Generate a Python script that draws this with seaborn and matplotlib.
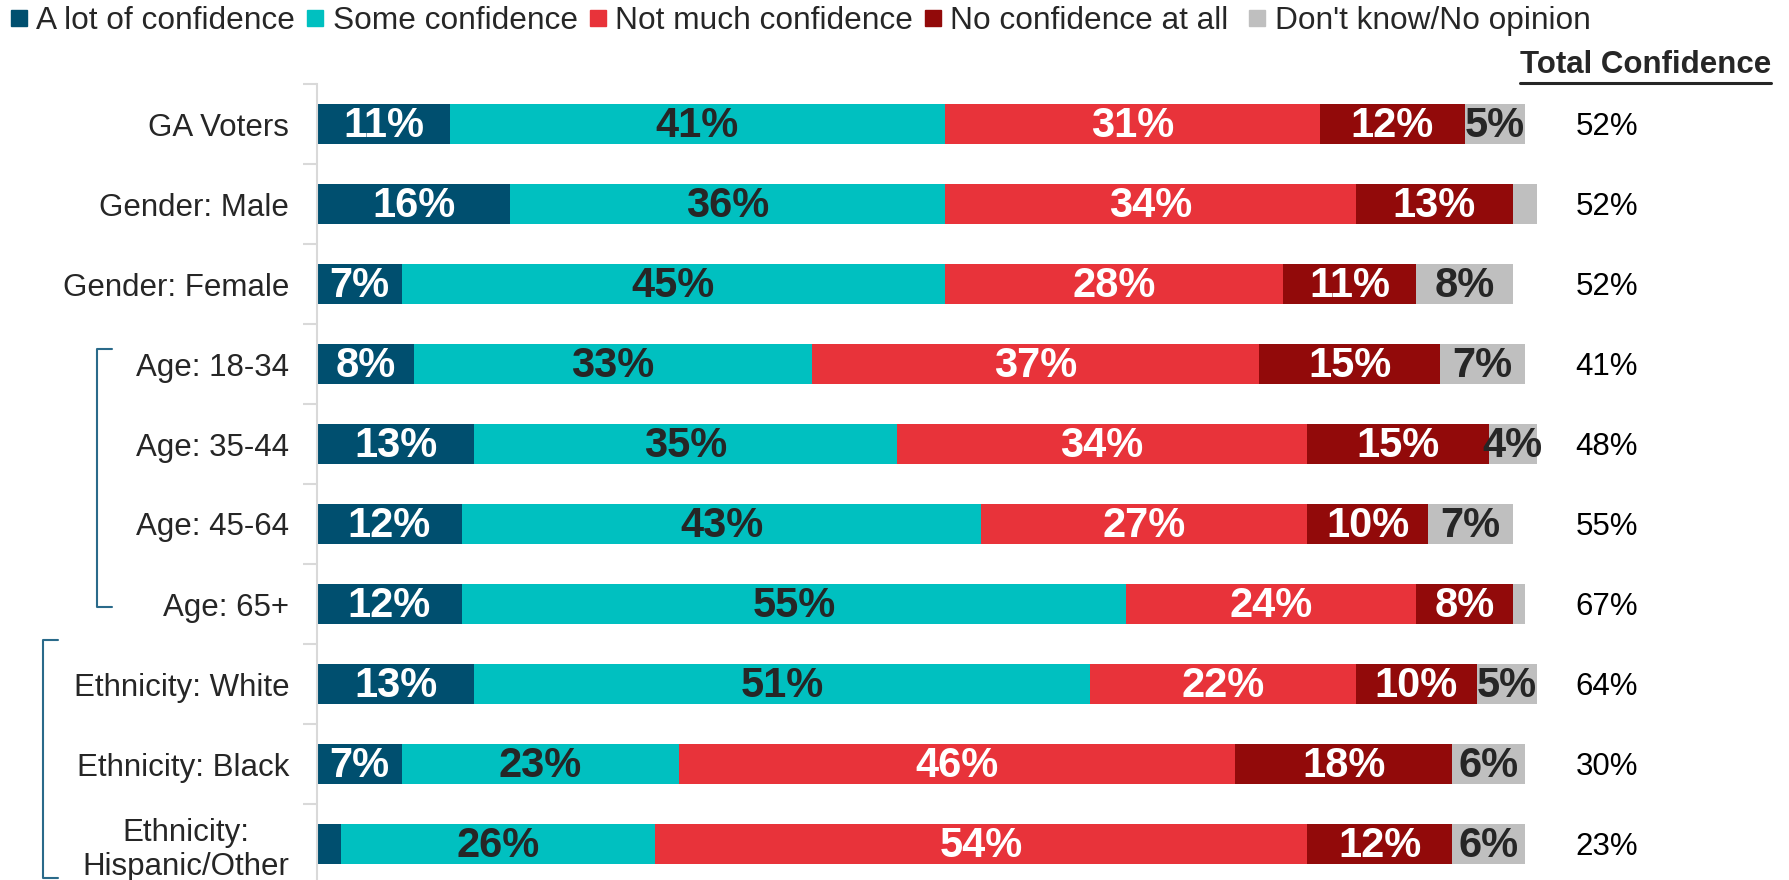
import numpy as np
import matplotlib
matplotlib.use("Agg")
import matplotlib.pyplot as plt
import seaborn as sns
from matplotlib.lines import Line2D
from matplotlib.transforms import blended_transform_factory

# data
groups = ["GA Voters", "Gender: Male", "Gender: Female", "Age: 18-34", "Age: 35-44",
          "Age: 45-64", "Age: 65+", "Ethnicity: White", "Ethnicity: Black",
          "Ethnicity:\nHispanic/Other"]
a_lot = [11, 16, 7, 8, 13, 12, 12, 13, 7, 2]
some = [41, 36, 45, 33, 35, 43, 55, 51, 23, 26]
not_much = [31, 34, 28, 37, 34, 27, 24, 22, 46, 54]
none_at_all = [12, 13, 11, 15, 15, 10, 8, 10, 18, 12]
dont_know = [5, 2, 8, 7, 4, 7, 1, 5, 6, 6]
total_conf = [52, 52, 52, 41, 48, 55, 67, 64, 30, 23]

series_names = ["A lot of confidence", "Some confidence", "Not much confidence",
                "No confidence at all ", "Don't know/No opinion"]
colors = ["#004F6F", "#00C0C0", "#E8333A", "#920A0A", "#BFBFBF"]
label_colors = ["white", "#262626", "white", "white", "#262626"]

sns.set_theme(style="white")
plt.rcParams["font.family"] = ["Liberation Sans", "DejaVu Sans"]

fig = plt.figure(figsize=(17.9, 8.8), dpi=100)
ax = fig.add_axes([317 / 1790, -4 / 880, 1220 / 1790, 800 / 880])

values = np.array([a_lot, some, not_much, none_at_all, dont_know])
cum = np.cumsum(values, axis=0)

# stacked bars: draw cumulative totals from the longest down
for k in reversed(range(5)):
    sns.barplot(x=cum[k], y=groups, color=colors[k], orient="h", width=0.5,
                saturation=1, ax=ax, linewidth=0)

for k in range(5):
    for i, v in enumerate(values[k]):
        if v >= 3:
            ax.text(cum[k][i] - v / 2, i + 0.02, f"{v}%", ha="center", va="center",
                    fontsize=30, fontweight="bold", color=label_colors[k])

ax.set_xlim(0, 101)
ax.set_ylim(9.5, -0.5)
ax.set_xlabel("")
ax.set_ylabel("")
ax.set_xticks([])
for s in ["top", "right", "bottom"]:
    ax.spines[s].set_visible(False)
ax.spines["left"].set_color("#D9D9D9")
ax.spines["left"].set_linewidth(1.5)
ax.set_yticks(np.arange(-0.5, 10, 1), minor=True)
ax.tick_params(axis="y", which="major", length=0, pad=20, labelsize=22.5,
               labelcolor="#262626")
ax.tick_params(axis="y", which="minor", length=10, width=1.5, color="#D9D9D9", left=True)
for lab in ax.get_yticklabels():
    lab.set_multialignment("center")

# total confidence column
tr = blended_transform_factory(fig.transFigure, ax.transData)
for i, t in enumerate(total_conf):
    ax.text(1607 / 1790, i + 0.04, f"{t}%", transform=tr, ha="center", va="center",
            fontsize=22.5, color="black")

hdr = fig.text(1771 / 1790, 1 - 65 / 880, "Total Confidence", ha="right", va="center",
               fontsize=22.5, fontweight="bold", color="#262626")

# brackets for the age and ethnicity groups
br = "#2A6A8A"
for x0, x1, y0, y1 in [(97, 112, 2.81, 6.04), (43, 58, 6.45, 9.43)]:
    ax.plot([x1 / 1790, x0 / 1790, x0 / 1790, x1 / 1790], [y0, y0, y1, y1],
            transform=tr, color=br, lw=1.5, clip_on=False)

handles = [Line2D([], [], marker="s", ls="", color=c, markersize=11.5) for c in colors]
fig.legend(handles, series_names, loc="center left", bbox_to_anchor=(8 / 1790, 1 - 21 / 880),
           ncol=5, frameon=False, fontsize=22.8, handlelength=0.5, handletextpad=0.3,
           columnspacing=0.38, borderaxespad=0, borderpad=0.1, labelcolor="#262626")

# underline for the header
fig.canvas.draw()
bb = hdr.get_window_extent()
fig.add_artist(Line2D([bb.x0 / 1790, bb.x1 / 1790], [(bb.y0 - 3) / 880, (bb.y0 - 3) / 880],
                      transform=fig.transFigure, color="#262626", lw=2.2))

fig.savefig("out.png", dpi=100)
